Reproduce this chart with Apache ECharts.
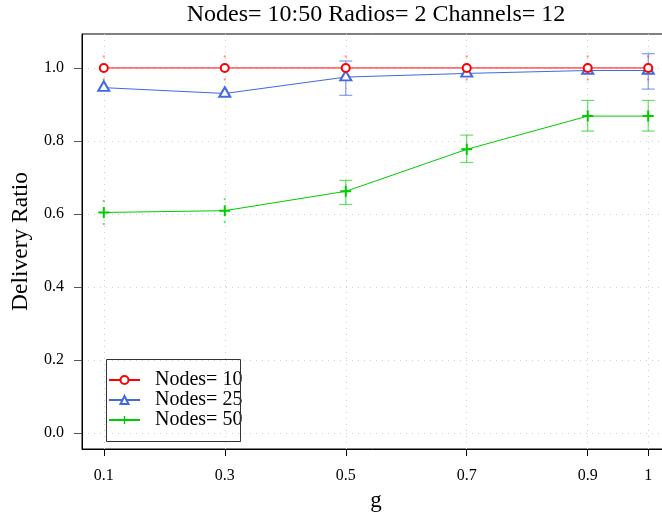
<!DOCTYPE html>
<html>
<head>
<meta charset="utf-8">
<script src="https://cdn.jsdelivr.net/npm/echarts@6/dist/echarts.min.js"></script>
<style>
    html, body { margin: 0; padding: 0; background: #fff; }
    #chart { width: 662px; height: 518px; }
</style>
</head>
<body>
<div id="chart"></div>
<script>
// x positions (g) and tick labels
const g = [0.1, 0.3, 0.5, 0.7, 0.9, 1];
const xTicks = [0.1, 0.3, 0.5, 0.7, 0.9, 1];
const yTicks = [0, 0.2, 0.4, 0.6, 0.8, 1.0];

// Nodes= 10
const nodes10 = [1, 1, 1, 1, 1, 1];
const nodes10Low = [1, 1, 1, 1, 1, 1];
const nodes10High = [1, 1, 1, 1, 1, 1];

// Nodes= 25 (null = no bar drawn)
const nodes25 = [0.946, 0.930, 0.975, 0.985, 0.993, 0.993];
const nodes25Low = [null, null, 0.925, null, null, 0.942];
const nodes25High = [null, null, 1.019, null, null, 1.039];

// Nodes= 50
const nodes50 = [0.604, 0.609, 0.662, 0.777, 0.868, 0.868];
const nodes50Low = [0.604, 0.609, 0.626, 0.741, 0.827, 0.827];
const nodes50High = [0.604, 0.609, 0.692, 0.816, 0.911, 0.911];

const FONT = 'Liberation Serif';
const RED = '#ff0000';
const BLUE = '#4169e1';
const GREEN = '#00cc00';
const PLUS = 'path://M4.5,0h2v11h-2z M0,4.5h11v2h-11z';

const pairs = (ys) => g.map((x, i) => [x, ys[i]]);
const bars = (lo, hi) => g.map((x, i) => [x, lo[i], hi[i]]).filter(d => d[1] !== null);

function errorBars(color) {
    return function (params, api) {
        const x = api.value(0);
        const a = api.coord([x, api.value(1)]);
        const b = api.coord([x, api.value(2)]);

        // zero-length bar: only two specks are left, like R does
        if (Math.abs(a[1] - b[1]) < 1)
            return {
                type: 'group',
                children: [
                    {type: 'rect', shape: {x: a[0] - 1, y: a[1] - 12.5, width: 2, height: 2}, style: {fill: color}},
                    {type: 'rect', shape: {x: a[0] - 1, y: a[1] + 10.5, width: 2, height: 2}, style: {fill: color}}
                ]
            };
        const style = {stroke: color, lineWidth: 1.2};

        return {
            type: 'group',
            children: [
                {type: 'line', shape: {x1: a[0], y1: a[1], x2: b[0], y2: b[1]}, style: style},
                {type: 'line', shape: {x1: a[0] - 6.5, y1: a[1], x2: a[0] + 6.5, y2: a[1]}, style: style},
                {type: 'line', shape: {x1: b[0] - 6.5, y1: b[1], x2: b[0] + 6.5, y2: b[1]}, style: style}
            ]
        };
    };
}

const chart = echarts.init(document.getElementById('chart'), null, {renderer: 'canvas'});

chart.setOption({
    backgroundColor: '#fff',
    animation: false,
    title: {
        text: 'Nodes= 10:50 Radios= 2 Channels= 12',
        left: 371,
        top: -2,
        textAlign: 'center',
        textStyle: {fontFamily: FONT, fontSize: 24, fontWeight: 'normal', color: '#000'}
    },
    grid: {
        left: 82, top: 34, width: 588, height: 415,
        outerBoundsMode: 'none',
        show: true, borderColor: '#000', borderWidth: 1, backgroundColor: 'transparent'
    },
    legend: {
        orient: 'vertical',
        left: 108,
        top: 370,
        padding: 0,
        itemGap: 0,
        itemWidth: 31,
        itemHeight: 10,
        data: ['Nodes= 10', 'Nodes= 25', 'Nodes= 50'],
        textStyle: {fontFamily: FONT, fontSize: 20, color: '#000', lineHeight: 19.5, padding: [0, 0, 0, 10]}
    },
    graphic: [{
        type: 'rect',
        left: 104, top: 357,
        shape: {width: 134, height: 82},
        style: {fill: 'none', stroke: '#333', lineWidth: 1},
        z: 10
    }],
    xAxis: {
        type: 'value',
        min: 0.064,
        max: 1.036,
        name: 'g',
        nameLocation: 'middle',
        nameGap: 40,
        nameTextStyle: {fontFamily: FONT, fontSize: 23, color: '#000'},
        axisLine: {onZero: false, lineStyle: {color: '#000', width: 1}},
        axisTick: {customValues: xTicks, length: 7, lineStyle: {color: '#000'}},
        axisLabel: {
            customValues: xTicks,
            margin: 19,
            fontFamily: FONT, fontSize: 16, color: '#000',
            formatter: v => v === 1 ? '1' : v.toFixed(1)
        },
        splitLine: {show: true, lineStyle: {color: '#cfcfcf', type: [1, 5], width: 1}}
    },
    yAxis: {
        type: 'value',
        min: -0.044,
        max: 1.093,
        name: 'Delivery Ratio',
        nameLocation: 'middle',
        nameGap: 48,
        nameTextStyle: {fontFamily: FONT, fontSize: 23.5, color: '#000'},
        axisLine: {show: true, onZero: false, lineStyle: {color: '#000', width: 1}},
        axisTick: {show: true, customValues: yTicks, length: 8, lineStyle: {color: '#555'}},
        axisLabel: {
            customValues: yTicks,
            margin: 18,
            fontFamily: FONT, fontSize: 16, color: '#000',
            formatter: v => v.toFixed(1)
        },
        splitLine: {show: true, lineStyle: {color: '#cfcfcf', type: [1, 5], width: 1}}
    },
    series: [
        {
            type: 'custom', name: 'err10', silent: true, z: 1,
            renderItem: errorBars('rgba(255,0,0,0.45)'),
            encode: {x: 0, y: [1, 2]},
            data: bars(nodes10Low, nodes10High)
        },
        {
            type: 'custom', name: 'err25', silent: true, z: 1,
            renderItem: errorBars('rgba(65,105,225,0.65)'),
            encode: {x: 0, y: [1, 2]},
            data: bars(nodes25Low, nodes25High)
        },
        {
            type: 'custom', name: 'err50', silent: true, z: 1,
            renderItem: errorBars('rgba(0,204,0,0.6)'),
            encode: {x: 0, y: [1, 2]},
            data: bars(nodes50Low, nodes50High)
        },
        {
            type: 'line', name: 'Nodes= 10', z: 4,
            data: pairs(nodes10),
            color: RED,
            symbol: 'emptyCircle', symbolSize: 8,
            itemStyle: {borderWidth: 1.2},
            lineStyle: {width: 1, color: RED}
        },
        {
            type: 'line', name: 'Nodes= 25', z: 3,
            data: pairs(nodes25),
            color: BLUE,
            symbol: 'emptyTriangle', symbolSize: [11, 9.5], symbolOffset: [0, -1.5],
            itemStyle: {borderWidth: 1.2},
            lineStyle: {width: 1, color: BLUE}
        },
        {
            type: 'line', name: 'Nodes= 50', z: 3,
            data: pairs(nodes50),
            color: GREEN,
            symbol: PLUS, symbolSize: 11,
            lineStyle: {width: 1, color: GREEN}
        }
    ]
});
</script>
</body>
</html>
